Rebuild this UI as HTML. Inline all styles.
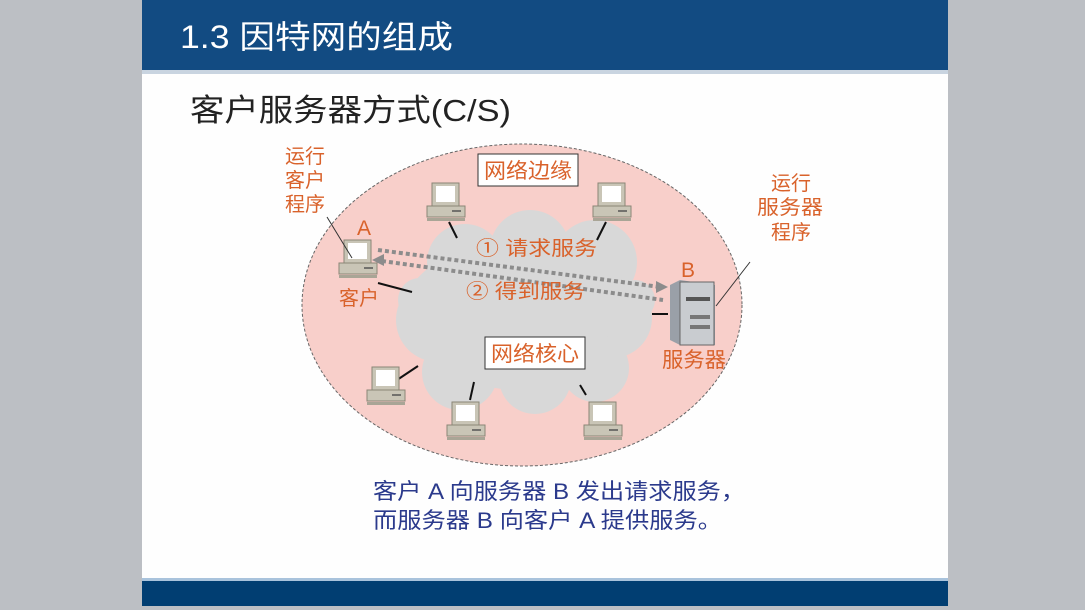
<!DOCTYPE html>
<html><head><meta charset="utf-8"><style>
html,body{margin:0;padding:0;width:1085px;height:610px;overflow:hidden;background:#bcbfc4;}
svg{display:block}
text{font-family:"Liberation Sans","Noto Sans CJK SC",sans-serif;}
</style></head><body>
<svg width="1085" height="610" viewBox="0 0 1085 610">
<defs>
<g id="pc">
<rect x="-15" y="-24" width="27" height="23" fill="#c9c5b6" stroke="#8a8676" stroke-width="1"/>
<rect x="-11" y="-21" width="19" height="16" fill="#fff"/>
<rect x="-20" y="-1" width="38" height="11" fill="#c9c5b6" stroke="#8a8676" stroke-width="1"/>
<line x1="5" y1="4" x2="14" y2="4" stroke="#555" stroke-width="1.5"/>
<rect x="-20" y="11" width="38" height="3" fill="#a9a596"/>
</g>
</defs>
<rect x="142" y="0" width="806" height="606" fill="#fefefe"/>
<rect x="142" y="0" width="806" height="70" fill="#124b82"/>
<rect x="142" y="70" width="806" height="4" fill="#c9d4e0"/>
<rect x="142" y="578" width="806" height="3" fill="#a9c3dc"/>
<rect x="142" y="581" width="806" height="25" fill="#013e72"/>
<text x="180" y="48" font-size="32" fill="#fff" textLength="273" lengthAdjust="spacingAndGlyphs">1.3  因特网的组成</text>
<text x="190" y="121" font-size="31" fill="#222" textLength="321" lengthAdjust="spacingAndGlyphs">客户服务器方式(C/S)</text>

<ellipse cx="522" cy="305" rx="220" ry="161" fill="#f8cfca" stroke="#666" stroke-width="1" stroke-dasharray="3,2"/>
<g fill="#d8d8d8">
<ellipse cx="522" cy="315" rx="120" ry="75"/>
<circle cx="465" cy="262" r="38"/><circle cx="530" cy="250" r="40"/><circle cx="595" cy="262" r="42"/>
<circle cx="438" cy="320" r="42"/><circle cx="612" cy="318" r="40"/>
<circle cx="460" cy="372" r="38"/><circle cx="535" cy="378" r="36"/><circle cx="595" cy="368" r="34"/>
<circle cx="420" cy="300" r="22"/><circle cx="635" cy="300" r="20"/>
</g>
<g stroke="#111" stroke-width="2">
<line x1="378" y1="283" x2="412" y2="292"/>
<line x1="449" y1="222" x2="457" y2="238"/>
<line x1="606" y1="222" x2="597" y2="240"/>
<line x1="652" y1="314" x2="668" y2="314"/>
<line x1="397" y1="380" x2="418" y2="366"/>
<line x1="470" y1="400" x2="474" y2="382"/>
<line x1="586" y1="395" x2="580" y2="385"/>
</g>
<rect x="478" y="154" width="100" height="32" fill="#fff" stroke="#333"/>
<text x="484" y="178" font-size="21" fill="#d9622b" textLength="88" lengthAdjust="spacingAndGlyphs">网络边缘</text>
<rect x="485" y="337" width="100" height="32" fill="#fff" stroke="#333"/>
<text x="491" y="361" font-size="21" fill="#d9622b" textLength="88" lengthAdjust="spacingAndGlyphs">网络核心</text>

<use href="#pc" x="447" y="207"/>
<use href="#pc" x="613" y="207"/>
<use href="#pc" x="359" y="264"/>
<use href="#pc" x="387" y="391"/>
<use href="#pc" x="467" y="426"/>
<use href="#pc" x="604" y="426"/>

<g>
<polygon points="670,285 680,280 715,285 715,345 680,345 670,340" fill="#9aa0a8"/>
<rect x="680" y="282" width="34" height="63" fill="#c9ccd0" stroke="#666"/>
<rect x="686" y="297" width="24" height="4" fill="#555"/>
<rect x="690" y="315" width="20" height="4" fill="#777"/>
<rect x="690" y="325" width="20" height="4" fill="#777"/>
</g>
<g stroke="#8c8c8c" stroke-width="4" stroke-dasharray="4,3" fill="none">
<line x1="378" y1="250" x2="660" y2="287"/>
<line x1="382" y1="261" x2="663" y2="300"/>
</g>
<polygon points="668,287 656,281 656,293" fill="#8c8c8c"/>
<polygon points="372,260 384,254 384,266" fill="#8c8c8c"/>
<line x1="327" y1="217" x2="352" y2="258" stroke="#333"/>
<line x1="716" y1="306" x2="750" y2="262" stroke="#333"/>

<g fill="#d9622b" font-size="20">
<text x="285" y="163">运行</text>
<text x="285" y="187">客户</text>
<text x="285" y="211">程序</text>
<text x="771" y="190">运行</text>
<text x="757" y="214" textLength="66" lengthAdjust="spacingAndGlyphs">服务器</text>
<text x="771" y="239">程序</text>
<text x="357" y="235" font-size="21">A</text>
<text x="681" y="277" font-size="21">B</text>
<text x="339" y="305">客户</text>
<text x="662" y="367" font-size="21" textLength="64" lengthAdjust="spacingAndGlyphs">服务器</text>
<text x="476" y="255" font-size="20" textLength="121" lengthAdjust="spacingAndGlyphs">①  请求服务</text>
<text x="466" y="298" font-size="20" textLength="119" lengthAdjust="spacingAndGlyphs">②  得到服务</text>
</g>
<g fill="#2b3a8c" font-size="22">
<text x="373" y="499" textLength="372" lengthAdjust="spacingAndGlyphs">客户 A 向服务器 B 发出请求服务，</text>
<text x="373" y="528" textLength="349" lengthAdjust="spacingAndGlyphs">而服务器 B 向客户 A 提供服务。</text>
</g>
</svg>
</body></html>
